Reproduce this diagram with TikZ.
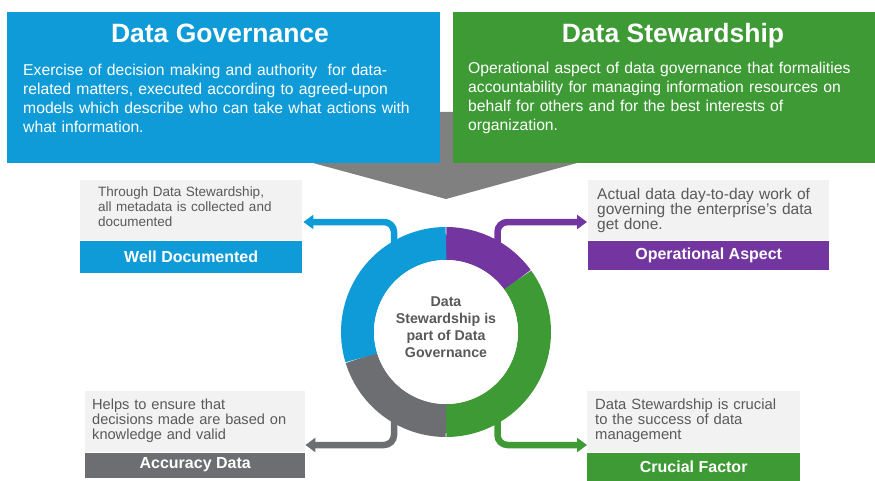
\documentclass[tikz,border=0pt]{standalone}
\usepackage{fontspec}
\setmainfont{Liberation Sans}
\usetikzlibrary{positioning,arrows.meta}

\definecolor{govblue}{HTML}{0F9BD8}
\definecolor{stewgreen}{HTML}{3E9A35}
\definecolor{oppurple}{HTML}{7336A0}
\definecolor{accgray}{HTML}{6D6E71}
\definecolor{chevgray}{HTML}{808080}
\definecolor{boxgray}{HTML}{F2F2F2}
\definecolor{txtgray}{HTML}{595959}

\newcommand{\fs}[2]{\fontsize{#1}{#2}\selectfont}

\tikzset{
  banner/.style={anchor=north west,inner sep=0pt},
  title/.style={anchor=base,text=white,font=\fs{26.5}{30}\bfseries},
  blurb/.style={anchor=base west,text=white,align=left,inner sep=0pt,font=\fs{15.7}{19}},
  infobox/.style={anchor=north west,fill=boxgray,text=txtgray,align=left,inner ysep=0pt},
  tag/.style={text=white,inner sep=0pt,font=\fs{16}{18}\bfseries},
  link/.style={line width=6.5pt,rounded corners=10pt,-{Triangle[length=10pt,width=14pt]}},
  seg/.style={line width=33pt},
}

\begin{document}
\begin{tikzpicture}[x=1pt,y=-1pt]
\useasboundingbox (0,0) rectangle (875,481);

% pointer behind the two banners
\fill[chevgray] (313,112) -- (577,112) -- (577,163) -- (446,199) -- (313,163) -- cycle;

\node[banner,fill=govblue,minimum width=433pt,minimum height=151pt] (gov) at (7,12) {};
\node[banner,fill=stewgreen,minimum width=422pt,minimum height=151pt] (stew) at (453,12) {};
\node[title] (gov-title) at (220,43) {Data Governance};
\node[title] (stew-title) at (673,43) {Data Stewardship};
\node[blurb,text width=410pt] (gov-text) at (23,76) {Exercise of decision making and authority\ \ for data-\\
related matters, executed according to agreed-upon\\
models which describe who can take what actions with\\
what information.};
\node[blurb,text width=400pt] (stew-text) at (468,74) {Operational aspect of data governance that formalities\\
accountability for managing information resources on\\
behalf for others and for the best interests of\\
organization.};

% the four notes
\node[infobox,inner xsep=18pt,text width=186pt,text height=16pt,text depth=44pt,font=\fs{13.5}{15}] (wd-txt) at (80,180)
  {Through Data Stewardship,\\ all metadata is collected and\\ documented};
\node[tag,fill=govblue,minimum width=222pt,minimum height=32pt,below=0pt of wd-txt] (wd-tag) {Well Documented};

\node[infobox,inner xsep=9pt,text width=223pt,text height=19pt,text depth=41pt,font=\fs{15.5}{15}] (oa-txt) at (588,180)
  {Actual data day-to-day work of\\ governing the enterprise's data\\ get done.};
\node[tag,fill=oppurple,minimum width=241pt,minimum height=29pt,below=0pt of oa-txt] (oa-tag) {Operational Aspect};

\node[infobox,inner xsep=7pt,text width=206pt,text height=18pt,text depth=43pt,font=\fs{14.6}{15}] (ad-txt) at (85,391)
  {Helps to ensure that\\ decisions made are based on\\ knowledge and valid};
\node[tag,fill=accgray,minimum width=220pt,minimum height=25pt,below=0pt of ad-txt] (ad-tag) {Accuracy Data};

\node[infobox,inner xsep=8pt,text width=197pt,text height=18pt,text depth=43pt,font=\fs{14.8}{15}] (cf-txt) at (587,391)
  {Data Stewardship is crucial\\ to the success of data\\ management};
\node[tag,fill=stewgreen,minimum width=213pt,minimum height=28pt,below=0pt of cf-txt] (cf-tag) {Crucial Factor};

% connectors leave the ring
\coordinate (ctr) at (446,332);
\coordinate (wd-out) at (394,250);
\coordinate (oa-out) at (497.5,250);
\coordinate (ad-out) at (394,415);
\coordinate (cf-out) at (497.5,415);
\coordinate (wd-in) at ([shift={(1,42)}]wd-txt.north east);
\coordinate (oa-in) at ([shift={(-1,42)}]oa-txt.north west);
\coordinate (ad-in) at ([shift={(0,54)}]ad-txt.north east);
\coordinate (cf-in) at ([shift={(0,54)}]cf-txt.north west);
\draw[link,govblue] (wd-out) |- (wd-in);
\draw[link,oppurple] (oa-out) |- (oa-in);
\draw[link,accgray] (ad-out) |- (ad-in);
\draw[link,stewgreen] (cf-out) |- (cf-in);

% ring
\draw[seg,oppurple] (ctr) ++(-90:88.5) arc[start angle=-90,end angle=-36,radius=88.5];
\draw[seg,stewgreen] (ctr) ++(-36:88.5) arc[start angle=-36,end angle=90,radius=88.5];
\draw[seg,accgray] (ctr) ++(90:88.5) arc[start angle=90,end angle=163,radius=88.5];
\draw[seg,govblue] (ctr) ++(163:88.5) arc[start angle=163,end angle=270,radius=88.5];
\fill[white] (ctr) circle[radius=72];
\node[align=center,text=txtgray,font=\fs{14.2}{17}\bfseries] (hub) at (446,327.5)
  {Data\\ Stewardship is\\ part of Data\\ Governance};
\end{tikzpicture}
\end{document}
